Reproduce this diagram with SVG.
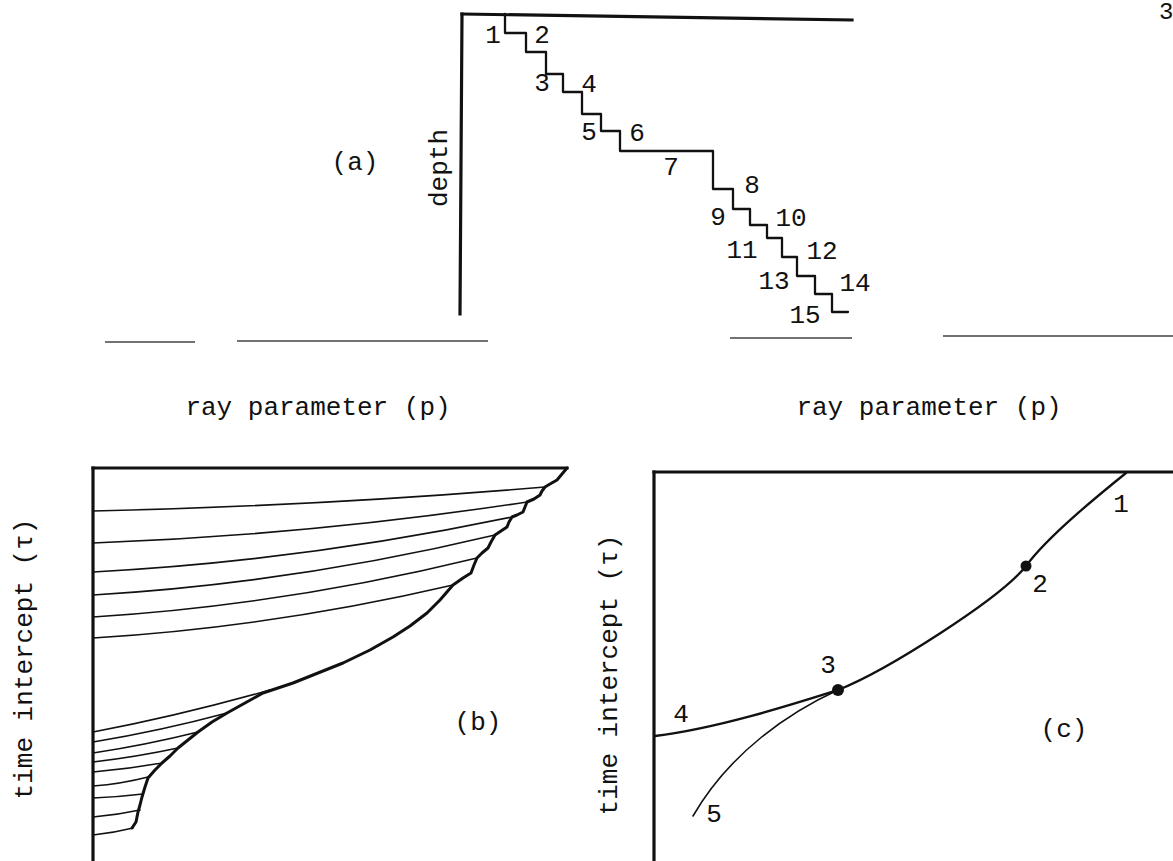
<svg xmlns="http://www.w3.org/2000/svg" width="1173" height="861" viewBox="0 0 1173 861">
<style>
text{font-family:"Liberation Mono","DejaVu Sans Mono",monospace;fill:#111}
.lbl{font-size:26px}
.ax{font-size:26px}
.axis{stroke:#111;stroke-width:3.2;fill:none;stroke-linecap:square}
.thin{stroke:#111;stroke-width:1.6;fill:none;stroke-linecap:round}
.med{stroke:#111;stroke-width:2.3;fill:none;stroke-linecap:round;stroke-linejoin:round}
.thick{stroke:#111;stroke-width:3;fill:none;stroke-linecap:round;stroke-linejoin:round}
.rule{stroke:#444;stroke-width:1.6;fill:none}
</style>
<rect width="1173" height="861" fill="#fff"/>
<text x="1159" y="19" style="font-size:24px">3</text>

<g id="panel-a">
<path class="axis" d="M462,14 L852,20"/>
<path class="axis" d="M462,14 L460,314"/>
<path class="med" d="M505,14 V33 H526 V52 H546 V74 H563 V92 H582 V114 H601 V131 H620 V151 H713 V189 H733 V209 H750 V225 H767 V238 H782 V257 H797 V276 H815 V294 H832 V312 H848"/>
<g class="lbl" text-anchor="middle">
<text x="493" y="43">1</text>
<text x="542" y="43">2</text>
<text x="542" y="91">3</text>
<text x="589" y="92">4</text>
<text x="589" y="140">5</text>
<text x="637" y="141">6</text>
<text x="671" y="175">7</text>
<text x="752" y="193">8</text>
<text x="718" y="225">9</text>
<text x="791" y="226">10</text>
<text x="742" y="258">11</text>
<text x="822" y="259">12</text>
<text x="774" y="289">13</text>
<text x="855" y="291">14</text>
<text x="805" y="323">15</text>
</g>
<text class="lbl" x="355" y="170" text-anchor="middle">(a)</text>
<text class="lbl" transform="translate(447,168) rotate(-90)" text-anchor="middle">depth</text>
</g>

<g id="rules">
<path class="rule" d="M105,342 H195 M237,341 H488 M730,338 H852 M943,336 H1173"/>
</g>

<g id="panel-b">
<path class="axis" d="M93,468 L567,468"/>
<path class="axis" d="M93,468 L93,861"/>
<path class="thick" d="M567,468 L562,474 L557,480 L550,484 L545,487 L542,491 L540,495 L534,499 L527,502 L525,507 L523,512 L517,515 L512,517 L509,522 L507,527 L501,531 L495,535 L491,542 L488,548 L482,553 L477,558 L474,565 L471,573 L463,578 L453,585 L440,600 L427,613 L410,626 L393,637 L370,650 L343,663 L318,673 L293,683 L278,688 L263,693 L245,703 L227,713 L212,722 L198,732 L188,740 L178,748 L170,756 L162,763 L155,770 L148,778 L145,787 L142,797 L140,805 L138,812 L136,822 L132,828"/>
<g class="thin">
<path d="M93,511 Q319,506 545,487"/>
<path d="M93,543 Q310,535 527,502"/>
<path d="M93,572 Q302,561 512,517"/>
<path d="M93,595 Q294,583 495,535"/>
<path d="M93,617 Q285,605 477,558"/>
<path d="M93,638 Q273,627 453,585"/>
<path d="M93,732 Q178,716 270,690"/>
<path d="M93,742 Q160,731 227,713"/>
<path d="M93,753 Q146,745 198,732"/>
<path d="M93,762 Q136,757 178,748"/>
<path d="M93,772 Q128,769 162,763"/>
<path d="M93,786 Q121,784 148,777"/>
<path d="M93,798 Q118,797 143,794"/>
<path d="M93,817 Q117,815 140,810"/>
<path d="M93,835 Q113,833 133,828"/>
</g>
<text class="lbl" x="478" y="730" text-anchor="middle">(b)</text>
<text class="ax" x="318" y="415" text-anchor="middle">ray parameter (p)</text>
<text class="ax" transform="translate(32,659) rotate(-90)" text-anchor="middle">time intercept (τ)</text>
</g>

<g id="panel-c">
<path class="axis" d="M654,472 L1173,472"/>
<path class="axis" d="M654,472 L654,861"/>
<path class="med" d="M1126,473 C1100,494 1048,536 1026,566 C1001,598 888,670 838,690 C800,702 720,728 655,736"/>
<path class="thin" d="M838,690 C790,712 730,752 693,816"/>
<circle cx="1026" cy="566" r="5.5" fill="#111"/>
<circle cx="838" cy="690" r="6" fill="#111"/>
<g class="lbl" text-anchor="middle">
<text x="1121" y="512">1</text>
<text x="1040" y="592">2</text>
<text x="828" y="673">3</text>
<text x="681" y="722">4</text>
<text x="714" y="822">5</text>
<text x="1064" y="737">(c)</text>
</g>
<text class="ax" x="929" y="415" text-anchor="middle">ray parameter (p)</text>
<text class="ax" transform="translate(617,675) rotate(-90)" text-anchor="middle">time intercept (τ)</text>
</g>
</svg>
